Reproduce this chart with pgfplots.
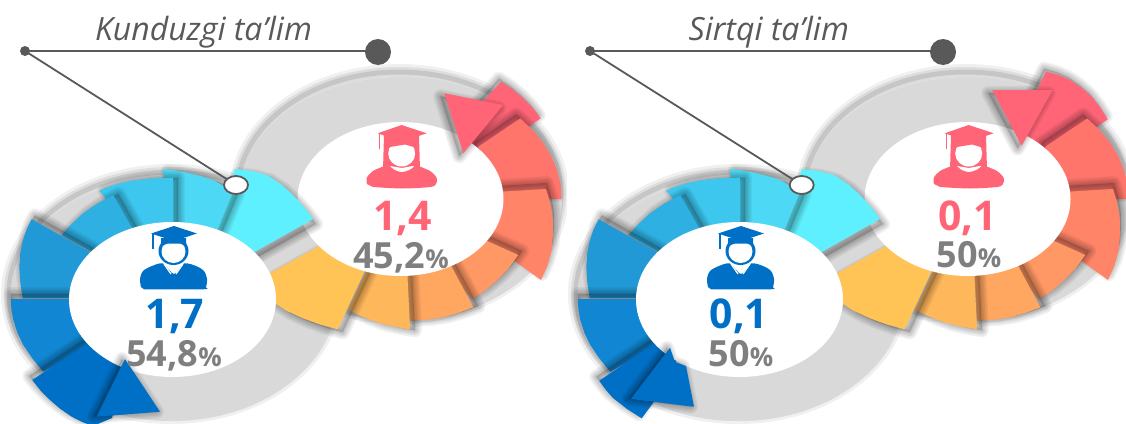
\documentclass[border=0pt]{standalone}
\usepackage{pgfplots}
\pgfplotsset{compat=1.18}
\usepackage{fontspec}
\setmainfont{Open Sans}
\definecolor{gband}{HTML}{D9D9D9}
\definecolor{ink}{HTML}{595959}
\definecolor{numgrey}{HTML}{7F7F7F}
\definecolor{bA}{HTML}{0070C6}
\definecolor{bB}{HTML}{1187D3}
\definecolor{bC}{HTML}{2199D6}
\definecolor{bD}{HTML}{2FB0E3}
\definecolor{bE}{HTML}{3DC6EE}
\definecolor{bF}{HTML}{4DD9F5}
\definecolor{bG}{HTML}{5FF0FF}
\definecolor{oA}{HTML}{FFC455}
\definecolor{oB}{HTML}{FFB75C}
\definecolor{oC}{HTML}{FFA660}
\definecolor{oD}{HTML}{FF9864}
\definecolor{oE}{HTML}{FF8468}
\definecolor{oF}{HTML}{FF756C}
\definecolor{oG}{HTML}{FF6577}
% colour, dx, dy (px, down positive), polygon
\newcommand\SecLayer[4]{\addplot[draw=black,draw opacity=#1,line width=#2pt,line join=round,no markers,forget plot,xshift=#3] coordinates {#4} --cycle;}
\newcommand\Sec[4]{%
  \addplot[draw=black,draw opacity=.05,line width=14pt,line join=round,no markers,forget plot,xshift=#2pt,yshift=-#3pt] coordinates {#4} --cycle;
  \addplot[draw=black,draw opacity=.05,line width=11pt,line join=round,no markers,forget plot,xshift=#2pt,yshift=-#3pt] coordinates {#4} --cycle;
  \addplot[draw=black,draw opacity=.06,line width=8pt,line join=round,no markers,forget plot,xshift=#2pt,yshift=-#3pt] coordinates {#4} --cycle;
  \addplot[draw=black,draw opacity=.06,line width=5pt,line join=round,no markers,forget plot,xshift=#2pt,yshift=-#3pt] coordinates {#4} --cycle;
  \addplot[draw=black,draw opacity=.06,line width=2pt,line join=round,no markers,forget plot,xshift=#2pt,yshift=-#3pt] coordinates {#4} --cycle;
  \addplot[draw=none,fill=black,fill opacity=.16,no markers,forget plot,xshift=#2pt,yshift=-#3pt] coordinates {#4} --cycle;
  \addplot[fill=#1,draw=none,no markers,forget plot] coordinates {#4} --cycle;
}
\newcommand\BandShadow[2]{%
  \draw[black,opacity=.06,line width=16pt,xshift=-1pt,yshift=5pt] (axis cs:#1,#2) ellipse [x radius=162, y radius=122];
  \draw[black,opacity=.08,line width=10pt,xshift=-1pt,yshift=5pt] (axis cs:#1,#2) ellipse [x radius=162, y radius=122];
  \draw[black,opacity=.10,line width=5pt,xshift=-1pt,yshift=5pt] (axis cs:#1,#2) ellipse [x radius=162, y radius=122];
}
\newcommand\Under[1]{% grey band, orange arc, right hole (pink arg: sector 14)
  \BandShadow{400}{199}
  \BandShadow{172}{299}
  \fill[gband] (axis cs:400,199) ellipse [x radius=162, y radius=122];
  \fill[gband] (axis cs:172,299) ellipse [x radius=162, y radius=122];
  \Sec{oG}{-2}{-3}{#1}
  \Sec{oF}{-4}{-4}{(520.3,118.4) (532.5,129.9) (542.8,142.4) (551,155.9) (556.9,169.8) (560.6,184.3) (561.7,199) (480,199) (478.3,146.7)}
  \Sec{oE}{1}{-6}{(546,189) (550.3,203) (552.7,216.7) (553,233) (551.7,250) (547.5,265.5) (541,280) (480,236) (480,193)}
  \Sec{oD}{4}{-4}{(518.3,255) (508.5,268.5) (497,280.5) (484.8,290.8) (471.7,299.3) (445,265) (485,240)}
  \Sec{oC}{5}{-1}{(473.3,307.3) (458.8,312.8) (443.3,317.3) (427,319.8) (410,320.7) (406.7,260) (448,260)}
  \Sec{oB}{5}{1}{(410,329.3) (395,326.8) (380,323.3) (364,317.3) (348.3,310) (372,260) (406.7,260)}
  \Sec{oA}{5}{3}{(270,273.3) (330,240) (370,260) (337.7,329.3) (320,324.5) (303,318.3) (286,310.5) (270,300)}
  \fill[white] (axis cs:400.5,199) ellipse [x radius=103, y radius=77];
}
\newcommand\Upper[1]{% blue arc, left hole (blue arg: sector 1)
  \Sec{bG}{3}{5}{(235,169) (252,171) (267,175) (281,184) (293,195) (304,207) (313,219) (230,266) (205,260)}
  \Sec{bF}{5}{2}{(162.7,169) (175,170.3) (187,172.7) (200,175.8) (213,180) (223,185.5) (233,192) (205,260) (173,250)}
  \Sec{bE}{5}{0}{(99.3,190.7) (108,187) (117,184) (130,181) (143,179.3) (158,178) (173,177.7) (173,250) (145,245)}
  \Sec{bD}{5}{-1}{(113.3,195) (150,260) (110,262) (61.7,235) (71.5,224) (83,213.3) (97.5,203.5)}
  \Sec{bC}{3}{-4}{(31.7,219.3) (26.5,229.5) (23,240) (20.3,253) (19.3,267) (20.3,282.5) (22.7,298) (110,298) (110,263)}
  \Sec{bB}{0}{-5}{(10.7,299) (130,299) (105,337) (43.3,371.7) (32.5,358.5) (23.3,345) (17.5,333) (13.3,320) (11.5,310)}
  \Sec{bA}{-3}{-4}{#1}
  \fill[white] (axis cs:172.5,299.5) ellipse [x radius=103.5, y radius=77.5];
}
\newcommand\Male{%
  \addplot[fill=bA,draw=none,smooth,no markers,forget plot] coordinates {(141,287) (140,279) (143,271) (152,266) (163,263.5) (174,274) (184,263.5) (196,266) (204,271) (207,279) (206,287) (203,289.3) (144,289.3)} --cycle;
  \addplot[draw=white,line width=1.2pt,no markers,forget plot] coordinates {(164,264) (171,274)};
  \addplot[draw=white,line width=1.2pt,no markers,forget plot] coordinates {(183,264) (176,274)};
  \fill[bA] (axis cs:173.5,251) ellipse [x radius=15, y radius=14];
  \fill[white] (axis cs:173.5,251.5) ellipse [x radius=12, y radius=11.5];
  \addplot[fill=bA,draw=none,no markers,forget plot] coordinates {(161,238) (186,238) (186,246) (180,243.5) (168,243.5) (161,246)} --cycle;
  \addplot[fill=bA,draw=none,no markers,forget plot] coordinates {(151,233.5) (174,226) (197,233.5) (174,241)} --cycle;
  \addplot[draw=bA,line width=1.5pt,no markers,forget plot] coordinates {(153,234) (153,249)};
}
\newcommand\Female{%
  \addplot[fill=oG,draw=none,no markers,forget plot] coordinates {(384,135) (419,135) (420,170) (383,170)} --cycle;
  \addplot[fill=oG,draw=none,smooth,no markers,forget plot] coordinates {(367,184) (366.7,178) (373,171) (388,165) (402,164) (415,165) (430,171) (436.7,178) (436,184) (430,187) (402,188.5) (373,187)} --cycle;
  \fill[white] (axis cs:401.7,153.5) ellipse [x radius=13.5, y radius=13];
  \addplot[fill=oG,draw=none,no markers,forget plot] coordinates {(387,136) (417,136) (417,148) (405,144.5) (390,147) (387,150)} --cycle;
  \addplot[fill=white,draw=none,smooth,no markers,forget plot] coordinates {(390,166) (395,170) (402,172) (409,170) (414,166) (402,168)} --cycle;
  \addplot[fill=oG,draw=none,no markers,forget plot] coordinates {(377.7,133.3) (401.7,125) (426.7,133.3) (401.7,141.7)} --cycle;
  \addplot[draw=oG,line width=1.5pt,no markers,forget plot] coordinates {(379.5,134) (379.5,149)};
}
\newcommand\Lead[3]{%
  \addplot[draw=ink,line width=1.8pt,no markers,forget plot] coordinates {(#1,51) (#2,51)};
  \addplot[draw=ink,line width=1.8pt,no markers,forget plot] coordinates {(#1,51) (#3,185)};
  \fill[ink] (axis cs:#1,51) circle [x radius=5, y radius=5];
  \fill[ink] (axis cs:#2,52) circle [x radius=13, y radius=13];
  \draw[ink,fill=white,line width=1.8pt] (axis cs:#3,185) ellipse [x radius=12, y radius=9];
}
\newcommand\BigNum[3]{\node[anchor=base,text=#1,font=\fontsize{41}{41}\selectfont\bfseries,inner sep=0pt] at (axis cs:#2) {#3};}
\newcommand\Pct[2]{\node[anchor=base,text=numgrey,font=\fontsize{36}{36}\selectfont\bfseries,inner sep=0pt] at (axis cs:#1) {#2{\fontsize{26}{26}\selectfont\%}};}
\pgfplotsset{every axis/.append style={scale only axis,anchor=south west,y dir=reverse,ymin=0,ymax=423,hide axis,clip=true}}
\begin{document}
\begin{tikzpicture}[x=1pt,y=1pt]
\path[use as bounding box] (0pt,0pt) rectangle (1126pt,423pt);
\begin{axis}[at={(0pt,0pt)},width=567pt,height=423pt,xmin=0,xmax=567]
  \Under{(501,81.7) (512.7,89.4) (523.3,98.3) (532.7,107.8) (540.7,118.3) (480,160) (462,125)}
  \Upper{(32.3,380) (40.5,390.5) (50,400) (60.5,409) (71.7,416.7) (82,422) (93,426) (112,418) (130,350) (100,335)}
  \Sec{bA}{-3}{0}{(125,359) (160,411.7) (96.7,416.7)}
  \Sec{oG}{-4}{3}{(444.3,93.3) (503.3,105) (463.3,153.3)}
  \Male
  \Female
  \Lead{25}{378}{236}
  \node[anchor=base,text=ink,font=\fontsize{32}{32}\selectfont\itshape,inner sep=0pt] at (axis cs:203.5,40) {Kunduzgi ta’lim};
  \BigNum{bA}{175,328}{1,7}
  \Pct{174,366.7}{54,8}
  \BigNum{oG}{402.5,230}{1,4}
  \Pct{401,268}{45,2}
\end{axis}
\begin{axis}[at={(567pt,0pt)},width=559pt,height=423pt,xmin=0,xmax=559]
  \Under{(479,71.7) (491.3,75) (503,80) (514.3,87.7) (524.7,96.7) (533.3,107.5) (540.7,119.3) (480,160) (450,130)}
  \Upper{(32.3,380.7) (39,390) (46,398) (60,409) (74.7,418.3) (86,403) (115,350) (100,335)}
  \Sec{bA}{-3}{0}{(103,347.7) (108,362) (119,366) (127,406.7) (64,399)}
  \Sec{oG}{-4}{3}{(425.3,90) (485.7,90) (454.7,145.7)}
  \Male
  \Female
  \Lead{23}{376}{234.7}
  \node[anchor=base,text=ink,font=\fontsize{32}{32}\selectfont\itshape,inner sep=0pt] at (axis cs:201.8,40) {Sirtqi ta’lim};
  \BigNum{bA}{172,328}{0,1}
  \Pct{174,366.7}{50}
  \BigNum{oG}{400.5,230}{0,1}
  \Pct{402,267}{50}
\end{axis}
\end{tikzpicture}
\end{document}
